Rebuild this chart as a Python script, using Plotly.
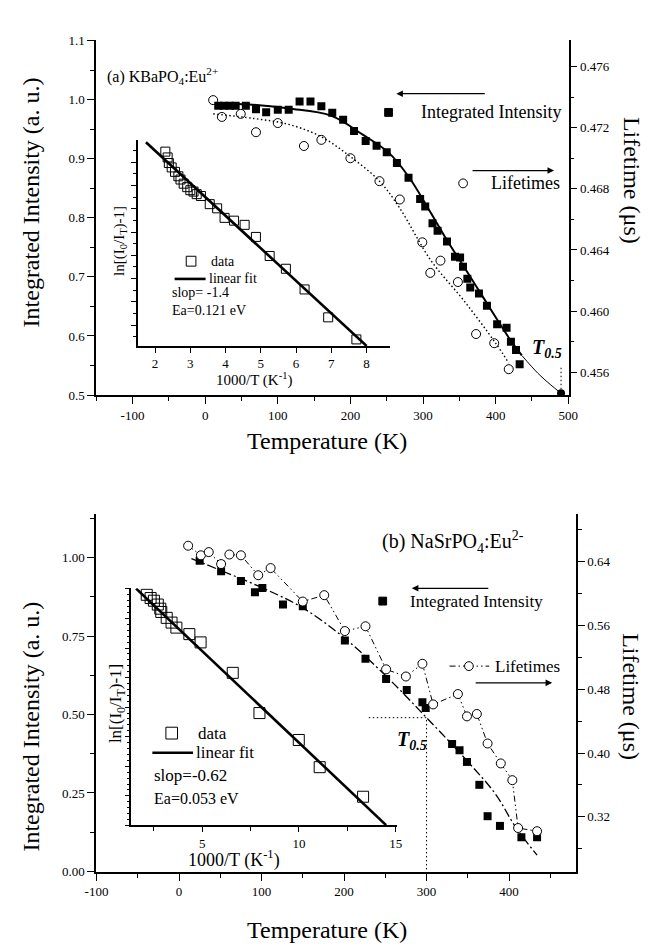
import plotly.graph_objects as go

W, H = 656, 948
SERIF = "Liberation Serif"


def X(px):
    return px / W


def Y(py):
    return 1 - py / H


# ---------------- tick labels ----------------
a_xticks = [-100, 0, 100, 200, 300, 400, 500]
a_xtick_text = ["-100", "0", "100", "200", "300", "400", "500"]
b_xticks = [-100, 0, 100, 200, 300, 400]
b_xtick_text = ["-100", "0", "100", "200", "300", "400"]

# ---------------- Panel (a) KBaPO4:Eu2+ ----------------
a_int_T = [18, 26, 34, 42, 56, 70, 84, 100, 115, 130, 145, 160, 175, 190, 205, 221, 236, 250, 264,
           280, 296, 303, 313, 320, 333, 344, 351, 355, 361, 365, 377, 388, 402, 415, 421, 428, 433]
a_int_I = [0.990, 0.990, 0.990, 0.990, 0.990, 0.984, 0.979, 0.983, 0.983, 0.997, 0.997, 0.989, 0.978,
           0.966, 0.947, 0.930, 0.922, 0.911, 0.893, 0.868, 0.832, 0.819, 0.791, 0.778, 0.760, 0.734,
           0.733, 0.717, 0.697, 0.682, 0.672, 0.651, 0.620, 0.614, 0.590, 0.576, 0.552]

a_fit_T = [15, 60, 115, 173, 218, 253, 280, 310, 333, 360, 382, 405, 422, 436]
a_fit_I = [0.993, 0.992, 0.985, 0.973, 0.940, 0.910, 0.870, 0.810, 0.762, 0.710, 0.667, 0.622, 0.590, 0.567]
a_tail_T = [436, 458, 475, 490]
a_tail_I = [0.567, 0.537, 0.518, 0.503]
a_T05 = [490]
a_T05_I = [0.503]
a_T05_mark_top = 0.548

a_life_T = [11, 23, 49, 70, 100, 136, 160, 200, 240, 268, 299, 310, 324, 348, 373, 398, 418]
a_life_L = [0.4738, 0.4727, 0.4729, 0.4717, 0.4723, 0.4708, 0.4712, 0.4700, 0.4685, 0.4673,
            0.4645, 0.4625, 0.4633, 0.4619, 0.4585, 0.4579, 0.4562]
a_lfit_T = [11, 67, 116, 160, 200, 240, 267, 311, 356, 400, 418]
a_lfit_L = [0.4729, 0.4726, 0.4722, 0.4714, 0.4701, 0.4685, 0.4668, 0.4633, 0.4607, 0.4579, 0.4566]

# inset (a)
ia_x = [2.29, 2.355, 2.39, 2.47, 2.565, 2.66, 2.72, 2.81, 2.91, 3.00, 3.09, 3.18, 3.30, 3.55,
        3.76, 3.97, 4.24, 4.54, 4.86, 5.25, 5.71, 6.24, 6.91, 7.71]
ia_y = [0.46, 0.21, -0.03, -0.22, -0.41, -0.60, -0.74, -0.92, -1.07, -1.20, -1.26, -1.37, -1.45,
        -1.80, -1.98, -2.39, -2.51, -2.69, -3.21, -4.03, -4.58, -5.47, -6.67, -7.62]
ia_fit_x = [1.74, 8.0]
ia_fit_y = [0.86, -7.9]

# ---------------- Panel (b) NaSrPO4:Eu2+ ----------------
b_int_T = [25, 51, 75, 92, 101, 126, 150, 201, 226, 251, 276, 295, 299, 331, 340, 349, 364, 374,
           389, 415, 434]
b_int_I = [0.990, 0.957, 0.926, 0.890, 0.903, 0.851, 0.845, 0.736, 0.678, 0.613, 0.578, 0.539,
           0.521, 0.406, 0.386, 0.349, 0.276, 0.176, 0.145, 0.109, 0.109]
b_fit_T = [15, 50, 100, 150, 200, 250, 300, 350, 384, 408, 434]
b_fit_I = [0.997, 0.960, 0.905, 0.840, 0.745, 0.625, 0.490, 0.350, 0.245, 0.141, 0.052]

b_life_T = [11, 26.5, 36, 51, 61, 75, 96, 111, 150, 176, 201, 226, 251, 275, 295, 308, 338, 349,
            361, 374, 390, 404, 411, 434]
b_life_L = [0.660, 0.648, 0.652, 0.637, 0.649, 0.648, 0.623, 0.632, 0.590, 0.598, 0.553, 0.559,
            0.505, 0.496, 0.512, 0.461, 0.474, 0.446, 0.449, 0.412, 0.387, 0.366, 0.306, 0.302]

b_T05 = 300
b_T05_I = 0.49
b_T05_left = 230

# inset (b)
ib_x = [2.14, 2.34, 2.51, 2.71, 2.84, 2.89, 3.17, 3.42, 3.67, 4.34, 4.92, 6.58, 7.96, 9.99, 11.07, 13.31]
ib_y = [-0.20, -0.31, -0.40, -0.53, -0.67, -0.78, -0.98, -1.14, -1.31, -1.53, -1.81, -2.84, -4.20,
        -5.11, -6.03, -7.03]
ib_fit_x = [1.59, 14.5]
ib_fit_y = [0.01, -7.99]

fig = go.Figure()

sq = dict(symbol="square", size=8, color="black")
oc = dict(symbol="circle-open", size=9, color="black", line=dict(width=1, color="black"))
DOT = "1.5px,2.5px"

# Panel (a) traces
fig.add_trace(go.Scatter(x=a_lfit_T, y=a_lfit_L, mode="lines", line=dict(color="black", width=1.4, dash=DOT, shape="spline"), xaxis="x", yaxis="y2"))
fig.add_trace(go.Scatter(x=a_life_T, y=a_life_L, mode="markers", marker=oc, xaxis="x", yaxis="y2"))
fig.add_trace(go.Scatter(x=a_fit_T, y=a_fit_I, mode="lines", line=dict(color="black", width=2, shape="spline"), xaxis="x", yaxis="y"))
fig.add_trace(go.Scatter(x=a_tail_T, y=a_tail_I, mode="lines", line=dict(color="black", width=1, shape="spline"), xaxis="x", yaxis="y"))
fig.add_trace(go.Scatter(x=a_int_T, y=a_int_I, mode="markers", marker=sq, xaxis="x", yaxis="y"))
fig.add_trace(go.Scatter(x=[a_T05[0], a_T05[0]], y=[a_T05_I[0], a_T05_mark_top], mode="lines", line=dict(color="black", width=1, dash=DOT), xaxis="x", yaxis="y"))
fig.add_trace(go.Scatter(x=a_T05, y=a_T05_I, mode="markers", marker=dict(symbol="circle", size=8, color="black"), xaxis="x", yaxis="y"))

# inset (a)
fig.add_trace(go.Scatter(x=ia_fit_x, y=ia_fit_y, mode="lines", line=dict(color="black", width=2.6), xaxis="x5", yaxis="y5"))
fig.add_trace(go.Scatter(x=ia_x, y=ia_y, mode="markers", marker=dict(symbol="square-open", size=9, color="black", line=dict(width=1)), xaxis="x5", yaxis="y5"))

# Panel (b) traces
fig.add_trace(go.Scatter(x=b_fit_T, y=b_fit_I, mode="lines", line=dict(color="black", width=1.3, dash="9px,3px,2px,3px", shape="spline"), xaxis="x3", yaxis="y3"))
fig.add_trace(go.Scatter(x=b_life_T, y=b_life_L, mode="lines+markers", line=dict(color="black", width=1, dash="6px,3px,1.5px,3px,1.5px,3px"), marker=dict(symbol="circle", size=9, color="white", line=dict(width=1, color="black")), xaxis="x3", yaxis="y4"))
fig.add_trace(go.Scatter(x=b_int_T, y=b_int_I, mode="markers", marker=sq, xaxis="x3", yaxis="y3"))
fig.add_trace(go.Scatter(x=[b_T05_left, b_T05, b_T05], y=[b_T05_I, b_T05_I, 0], mode="lines", line=dict(color="black", width=1, dash=DOT), xaxis="x3", yaxis="y3"))

# inset (b)
fig.add_trace(go.Scatter(x=ib_fit_x, y=ib_fit_y, mode="lines", line=dict(color="black", width=2.6), xaxis="x6", yaxis="y6"))
fig.add_trace(go.Scatter(x=ib_x, y=ib_y, mode="markers", marker=dict(symbol="square-open", size=11, color="black", line=dict(width=1)), xaxis="x6", yaxis="y6"))

tickfont = dict(family=SERIF, size=13, color="black")
common = dict(showgrid=False, zeroline=False, showline=True, linecolor="black", linewidth=1.5,
              tickcolor="black", tickwidth=1.2, tickfont=tickfont)


def minor(dt, ticks="outside", ln=4):
    return dict(dtick=dt, ticks=ticks, ticklen=ln, tickcolor="black", tickwidth=1, showgrid=False)


fig.update_layout(
    width=W, height=H, margin=dict(l=0, r=0, t=0, b=0), autosize=False,
    paper_bgcolor="white", plot_bgcolor="rgba(0,0,0,0)", showlegend=False,
    # panel a
    xaxis=dict(domain=[X(87), X(575)], range=[-150, 500.4], anchor="y", tickmode="array",
               tickvals=a_xticks, ticktext=a_xtick_text,
               ticks="outside", ticklen=7, minor=minor(50), **common),
    xaxis2=dict(overlaying="x", anchor="y", side="top", range=[-150, 500.4], tickmode="array",
                tickvals=a_xticks, ticktext=a_xtick_text,
                ticks="inside", ticklen=7, minor=minor(50, "inside"), **common),
    yaxis=dict(domain=[Y(394), Y(34)], range=[0.4997, 1.1003], anchor="x", tick0=0, dtick=0.1,
               tickformat=".1f", ticks="outside", ticklen=7, minor=minor(0.05), **common),
    yaxis2=dict(overlaying="y", anchor="x", side="right", range=[0.4545, 0.4777], tick0=0,
                dtick=0.004, tickformat=".3f", ticks="outside", ticklen=7, minor=minor(0.002), **common),
    # panel b
    xaxis3=dict(domain=[X(87), X(582.5)], range=[-100.4, 481], anchor="y3", tickmode="array",
                tickvals=b_xticks, ticktext=b_xtick_text,
                ticks="outside", ticklen=7, minor=minor(50), **common),
    xaxis4=dict(overlaying="x3", anchor="y3", side="top", range=[-100.4, 481], tickmode="array",
                tickvals=b_xticks, ticktext=b_xtick_text,
                ticks="inside", ticklen=7, minor=minor(50, "inside"), **common),
    yaxis3=dict(domain=[Y(878), Y(515)], range=[-0.002, 1.138], anchor="x3", tick0=0, dtick=0.25,
                tickformat=".2f", ticks="outside", ticklen=7, minor=minor(0.125), **common),
    yaxis4=dict(overlaying="y3", anchor="x3", side="right", range=[0.2508, 0.6993], tick0=0,
                dtick=0.08, tickformat=".2f", ticks="outside", ticklen=7, minor=minor(0.04), **common),
    # inset a
    xaxis5=dict(domain=[X(130), X(390)], range=[1.51, 8.65], anchor="y5", tick0=0, dtick=1,
                ticks="outside", ticklen=5, **common),
    yaxis5=dict(domain=[Y(344), Y(135)], range=[-7.9, 0.96], anchor="x5", tick0=0, dtick=1,
                ticks="outside", ticklen=5, showticklabels=False, minor=minor(0.5, ln=3), **common),
    # inset b
    xaxis6=dict(domain=[X(123.4), X(397.5)], range=[1.35, 15.05], anchor="y6", tick0=0, dtick=5,
                ticks="outside", ticklen=5, minor=minor(2.5), **common),
    yaxis6=dict(domain=[Y(830.7), Y(590)], range=[-8.0, 0.02], anchor="x6", tick0=0, dtick=1,
                ticks="outside", ticklen=5, showticklabels=False, minor=minor(0.2, ln=3), **common),
)

ann = []


def txt(text, px, py, size, xanchor="left", angle=0, yanchor="middle"):
    ann.append(dict(text=text, x=X(px), y=Y(py), xref="paper", yref="paper", showarrow=False,
                    xanchor=xanchor, yanchor=yanchor, textangle=angle,
                    font=dict(family=SERIF, size=size, color="black")))


def arrow(head_px, tail_px, py):
    ann.append(dict(text="", x=X(head_px), y=Y(py), xref="paper", yref="paper", showarrow=True,
                    ax=tail_px - head_px, ay=0, axref="pixel", ayref="pixel",
                    arrowhead=2, arrowsize=1.1, arrowwidth=1.2, arrowcolor="black"))


# axis titles
txt("Integrated Intensity (a. u.)", 20, 198, 24, "center", -90)
txt("Lifetime (μs)", 640, 176, 24, "center", 90)
txt("Temperature (K)", 325, 440, 24, "center")
txt("Integrated Intensity (a. u.)", 20, 730, 24, "center", -90)
txt("Lifetime (μs)", 640, 700, 24, "center", 90)
txt("Temperature (K)", 325, 937, 24, "center")

# panel a texts
txt("(a) KBaPO<sub>4</sub>:Eu<sup>2+</sup>", 96, 70, 16)
txt("Integrated Intensity", 420, 107, 18)
txt("Lifetimes", 493, 179, 18)
arrow(397, 487, 88)
arrow(560, 477, 166)
txt("<b><i>T</i></b><sub><b><i>0.5</i></b></sub>", 553, 347, 20, "center")

# inset a texts
txt("data", 203, 258, 14)
txt("linear fit", 201, 276, 14)
txt("slop= -1.4", 163, 290, 14)
txt("Ea=0.121 eV", 163, 308, 14)
txt("ln[(I<sub>0</sub>/I<sub>T</sub>)-1]", 111, 237, 15, "center", -90)
txt("1000/T (K<sup>-1</sup>)", 250, 378, 15, "center")

# panel b texts
txt("(b) NaSrPO<sub>4</sub>:Eu<sup>2-</sup>", 380, 543, 20)
txt("Integrated Intensity", 409, 603, 17)
txt("Lifetimes", 497, 669, 17)
arrow(413, 491, 590)
arrow(558, 480, 686)
txt("<b><i>T</i></b><sub><b><i>0.5</i></b></sub>", 413, 745, 20, "center")

# inset b texts
txt("data", 190, 737, 17)
txt("linear fit", 188, 757, 17)
txt("slop=-0.62", 145, 780, 17)
txt("Ea=0.053 eV", 145, 803, 16)
txt("ln[(I<sub>0</sub>/I<sub>T</sub>)-1]", 108, 707, 17, "center", -90)
txt("1000/T (K<sup>-1</sup>)", 229, 865, 18, "center")

fig.update_layout(annotations=ann)

shapes = []


def rect(cx, cy, s, fill):
    shapes.append(dict(type="rect", xref="paper", yref="paper", x0=X(cx - s / 2), x1=X(cx + s / 2),
                       y0=Y(cy + s / 2), y1=Y(cy - s / 2), line=dict(color="black", width=1),
                       fillcolor="black" if fill else "white"))


def circ(cx, cy, s):
    shapes.append(dict(type="circle", xref="paper", yref="paper", x0=X(cx - s / 2), x1=X(cx + s / 2),
                       y0=Y(cy + s / 2), y1=Y(cy - s / 2), line=dict(color="black", width=1),
                       fillcolor="white"))


def hline(x0, x1, py, w, dash="solid"):
    shapes.append(dict(type="line", xref="paper", yref="paper", x0=X(x0), x1=X(x1), y0=Y(py), y1=Y(py),
                       line=dict(color="black", width=w, dash=dash)))


rect(389, 107, 8, True)
circ(466, 179, 9)
rect(383, 603, 8, True)
hline(452, 493, 669, 1, "6px,3px,1.5px,3px,1.5px,3px")
circ(472, 669, 9)
rect(185, 258, 10, False)
hline(168, 200, 276, 2.6)
rect(165, 737, 12, False)
hline(145, 187, 757, 2.6)

fig.update_layout(shapes=shapes)

fig.write_html("out.html")
